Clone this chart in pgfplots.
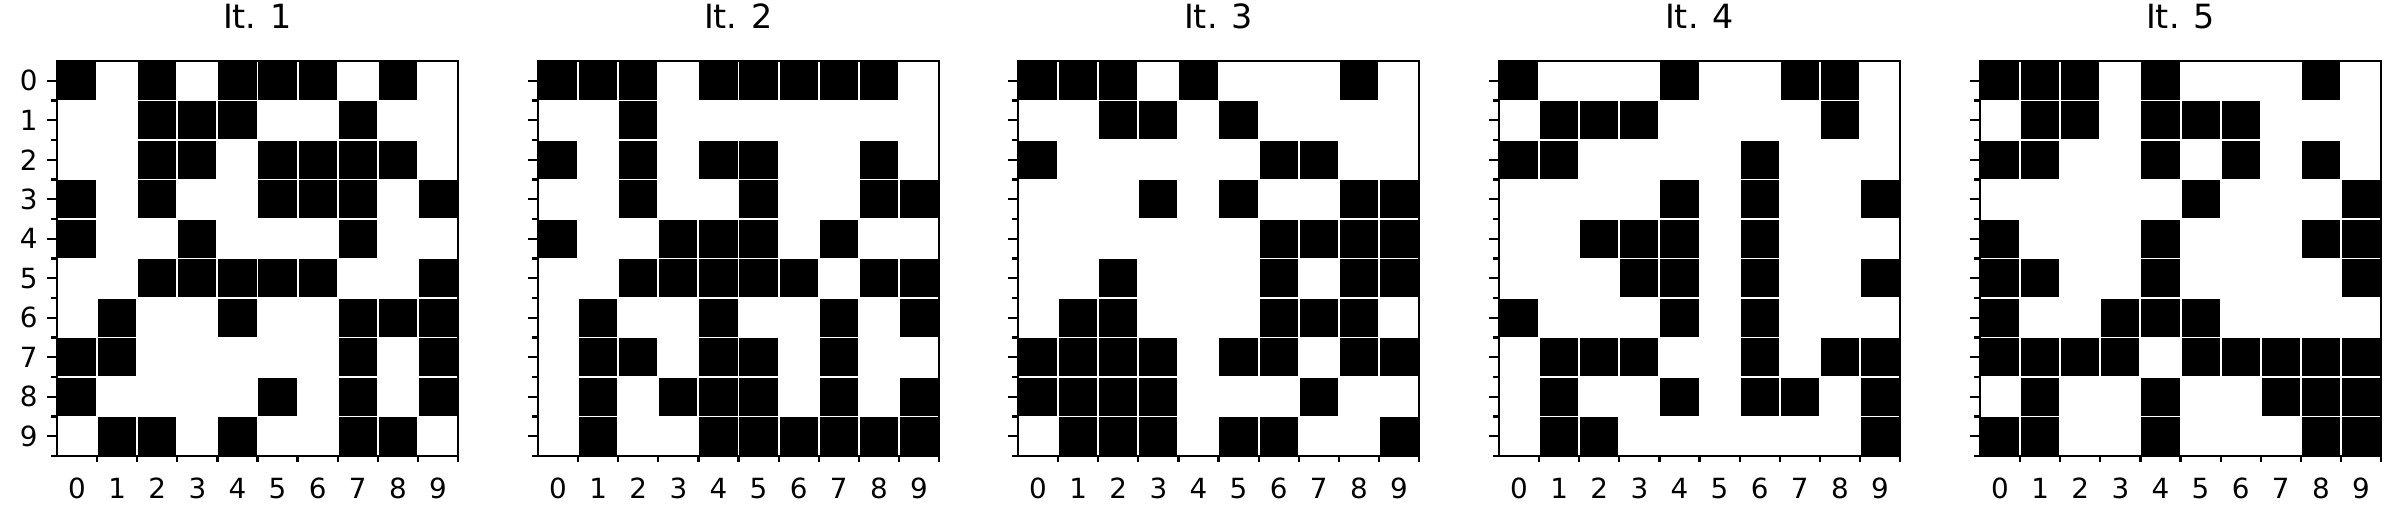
\documentclass[border=0pt]{standalone}
\usepackage{fontspec}
\setmainfont{DejaVu Sans}
\usepackage{pgfplots}
\pgfplotsset{compat=1.18}
\pgfdeclareplotmark{cell}{\pgfpathrectangle{\pgfpoint{-7.218pt}{-7.11pt}}{\pgfpoint{14.436pt}{14.22pt}}\pgfusepathqfillstroke}
\pgfplotsset{
  cellax/.style={
    scale only axis, width=144.36pt, height=142.2pt,
    xmin=-0.5, xmax=9.5, ymin=-0.5, ymax=9.5,
    y dir=reverse, axis on top,
    xtick={0,...,9}, ytick={0,...,9},
    minor xtick={0.5,1.5,...,9.5}, minor ytick={0.5,1.5,...,9.5},
    tick align=outside, major tick length=3.5pt, minor tick length=2pt,
    major x tick style={draw=none},
    xtick pos=left, ytick pos=left,
    axis line style={line width=0.8pt},
    every tick/.style={black, line width=0.8pt},
    /pgf/number format/assume math mode=true,
    tick label style={font=\fontsize{10}{12}\selectfont},
    xticklabel style={yshift=-1pt},
    title style={at={(0.5,1)}, anchor=base, yshift=5.8pt, font=\fontsize{12}{14}\selectfont},
    anchor=south west,
  },
  cells/.style={only marks, mark=cell, mark options={fill=black, draw=white, line width=0.7pt}},
}
\begin{document}
\begin{tikzpicture}
\begin{axis}[cellax, name=a1, at={(20.52pt,26.64pt)}, title={It. 1}]
\addplot[cells] coordinates {
(0,0)(2,0)(4,0)(5,0)(6,0)(8,0)
(2,1)(3,1)(4,1)(7,1)
(2,2)(3,2)(5,2)(6,2)(7,2)(8,2)
(0,3)(2,3)(5,3)(6,3)(7,3)(9,3)
(0,4)(3,4)(7,4)
(2,5)(3,5)(4,5)(5,5)(6,5)(9,5)
(1,6)(4,6)(7,6)(8,6)(9,6)
(0,7)(1,7)(7,7)(9,7)
(0,8)(5,8)(7,8)(9,8)
(1,9)(2,9)(4,9)(7,9)(8,9)
};
\end{axis}
\begin{axis}[cellax, name=a2, at={(193.68pt,26.64pt)}, title={It. 2}, yticklabels={}]
\addplot[cells] coordinates {
(0,0)(1,0)(2,0)(4,0)(5,0)(6,0)(7,0)(8,0)
(2,1)
(0,2)(2,2)(4,2)(5,2)(8,2)
(2,3)(5,3)(8,3)(9,3)
(0,4)(3,4)(4,4)(5,4)(7,4)
(2,5)(3,5)(4,5)(5,5)(6,5)(8,5)(9,5)
(1,6)(4,6)(7,6)(9,6)
(1,7)(2,7)(4,7)(5,7)(7,7)
(1,8)(3,8)(4,8)(5,8)(7,8)(9,8)
(1,9)(4,9)(5,9)(6,9)(7,9)(8,9)(9,9)
};
\end{axis}
\begin{axis}[cellax, name=a3, at={(366.48pt,26.64pt)}, title={It. 3}, yticklabels={}]
\addplot[cells] coordinates {
(0,0)(1,0)(2,0)(4,0)(8,0)
(2,1)(3,1)(5,1)
(0,2)(6,2)(7,2)
(3,3)(5,3)(8,3)(9,3)
(6,4)(7,4)(8,4)(9,4)
(2,5)(6,5)(8,5)(9,5)
(1,6)(2,6)(6,6)(7,6)(8,6)
(0,7)(1,7)(2,7)(3,7)(5,7)(6,7)(8,7)(9,7)
(0,8)(1,8)(2,8)(3,8)(7,8)
(1,9)(2,9)(3,9)(5,9)(6,9)(9,9)
};
\end{axis}
\begin{axis}[cellax, name=a4, at={(539.64pt,26.64pt)}, title={It. 4}, yticklabels={}]
\addplot[cells] coordinates {
(0,0)(4,0)(7,0)(8,0)
(1,1)(2,1)(3,1)(8,1)
(0,2)(1,2)(6,2)
(4,3)(6,3)(9,3)
(2,4)(3,4)(4,4)(6,4)
(3,5)(4,5)(6,5)(9,5)
(0,6)(4,6)(6,6)
(1,7)(2,7)(3,7)(6,7)(8,7)(9,7)
(1,8)(4,8)(6,8)(7,8)(9,8)
(1,9)(2,9)(9,9)
};
\end{axis}
\begin{axis}[cellax, name=a5, at={(712.8pt,26.64pt)}, title={It. 5}, yticklabels={}]
\addplot[cells] coordinates {
(0,0)(1,0)(2,0)(4,0)(8,0)
(1,1)(2,1)(4,1)(5,1)(6,1)
(0,2)(1,2)(4,2)(6,2)(8,2)
(5,3)(9,3)
(0,4)(4,4)(8,4)(9,4)
(0,5)(1,5)(4,5)(9,5)
(0,6)(3,6)(4,6)(5,6)
(0,7)(1,7)(2,7)(3,7)(5,7)(6,7)(7,7)(8,7)(9,7)
(1,8)(4,8)(7,8)(8,8)(9,8)
(0,9)(1,9)(4,9)(8,9)(9,9)
};
\end{axis}
\foreach \a in {a1,a2,a3,a4,a5}{
  \draw[line width=0.8pt, black] (\a.south west) rectangle (\a.north east);
}
\pgfresetboundingbox
\path[use as bounding box] (0,0) rectangle (864.72pt,190.8pt);
\end{tikzpicture}
\end{document}
